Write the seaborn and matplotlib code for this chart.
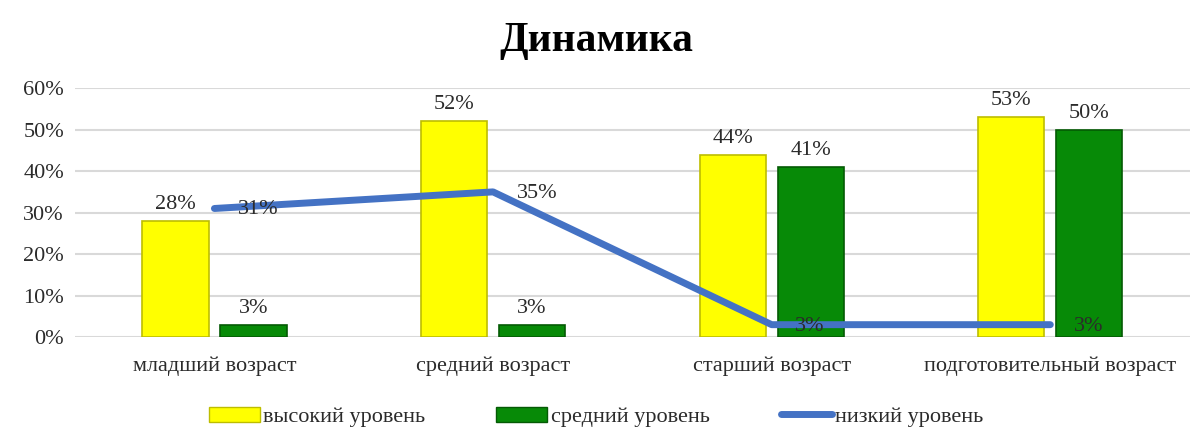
import matplotlib
matplotlib.use("Agg")
import matplotlib.pyplot as plt
from matplotlib.lines import Line2D
from matplotlib.patches import Patch
from matplotlib.ticker import PercentFormatter
import pandas as pd
import seaborn as sns

# ------------------------------------------------------------------ #
# Data
# ------------------------------------------------------------------ #
categories = ["младший возраст", "средний возраст", "старший возраст",
              "подготовительный возраст"]
high_level = [0.28, 0.52, 0.44, 0.53]
mid_level = [0.03, 0.03, 0.41, 0.50]
low_level = [0.31, 0.35, 0.03, 0.03]
series_names = ["высокий уровень", "средний уровень", "низкий уровень"]

YELLOW, YELLOW_EDGE = "#FFFF00", "#BDBD00"
GREEN, GREEN_EDGE = "#078A07", "#045A04"
BLUE = "#4472C4"
TEXT = "#2B2B2B"
FS = 16

sns.set_style("white")
plt.rcParams["font.family"] = ["Liberation Serif", "DejaVu Serif"]

df = pd.DataFrame({
    "cat": categories * 2,
    "val": high_level + mid_level,
    "series": [series_names[0]] * 4 + [series_names[1]] * 4,
})

fig = plt.figure(figsize=(11.92, 4.30), dpi=100)
ax = fig.add_axes([0.063, 0.216, 0.935, 0.579])

sns.barplot(
    data=df, x="cat", y="val", hue="series", order=categories,
    hue_order=series_names[:2], palette=[YELLOW, GREEN],
    width=0.56, gap=0.15, saturation=1, legend=False, ax=ax,
)
for bar, edge in zip(ax.patches, [YELLOW_EDGE] * 4 + [GREEN_EDGE] * 4):
    bar.set_edgecolor(edge)
    bar.set_linewidth(1.2)
    bar.set_zorder(2)

for container in ax.containers:
    ax.bar_label(container, labels=[f"{v * 100:.0f}%" for v in container.datavalues],
                 padding=5, fontsize=FS, color=TEXT)

# line series (low level)
xs = list(range(len(categories)))
ax.plot(xs, low_level, color=BLUE, lw=5, solid_capstyle="round", zorder=3)
for x, v in zip(xs, low_level):
    ax.annotate(f"{v * 100:.0f}%", (x, v), xytext=(17, -1), textcoords="offset points",
                ha="left", va="center", fontsize=FS, color=TEXT, zorder=4)

ax.set_xlim(-0.5, 3.5)
ax.set_ylim(0, 0.6)
ax.set_yticks([0, 0.1, 0.2, 0.3, 0.4, 0.5, 0.6])
ax.yaxis.set_major_formatter(PercentFormatter(1.0, decimals=0))
ax.yaxis.grid(True, color="#D9D9D9", lw=1.5, zorder=0)
ax.set_axisbelow(True)
ax.set_xlabel("")
ax.set_ylabel("")
ax.tick_params(axis="both", length=0, labelsize=FS, labelcolor=TEXT, pad=8)
ax.tick_params(axis="x", pad=14)
for side in ["top", "right", "left", "bottom"]:
    ax.spines[side].set_visible(False)

fig.suptitle("Динамика", fontsize=30, fontweight="bold", color="black", y=0.95)

handles = [
    Patch(facecolor=YELLOW, edgecolor=YELLOW_EDGE),
    Patch(facecolor=GREEN, edgecolor=GREEN_EDGE),
    Line2D([0], [0], color=BLUE, lw=5, solid_capstyle="round"),
]
fig.legend(handles, series_names, loc="lower center", bbox_to_anchor=(0.5, -0.04),
           ncol=3, frameon=False, fontsize=FS, handlelength=2.3, handletextpad=0.15,
           columnspacing=3.2, labelcolor=TEXT)

fig.savefig("out.png", dpi=100)
